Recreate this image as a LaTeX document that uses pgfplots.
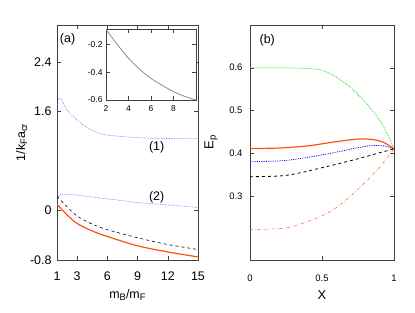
\documentclass[border=0pt]{standalone}
\usepackage{pgfplots}
\pgfplotsset{compat=1.18}
\usepackage{fontspec}
\setmainfont{Liberation Sans}
\definecolor{myorange}{RGB}{255,80,20}
\definecolor{myblue}{RGB}{90,90,255}
\definecolor{mygreen}{RGB}{40,220,40}
\definecolor{mytomato}{RGB}{255,110,60}
\newcommand{\sub}[1]{\raisebox{-0.3ex}{\fontsize{9.5}{10}\selectfont #1}}
\begin{document}
\begin{tikzpicture}[x=1bp,y=1bp]
\useasboundingbox (0,0) rectangle (415,313);
\pgfplotsset{
  every axis/.append style={
    scale only axis,
    /pgf/number format/assume math mode=true,
    axis line style={black!75},
    tick style={black!75},
    tick align=inside,
    clip=true,
  },
}
% left panel
\begin{axis}[
  at={(57bp,53bp)}, anchor=south west,
  width=141bp, height=235bp,
  xmin=1, xmax=15, ymin=-0.8, ymax=3.0,
  xtick={1,3,6,9,12,15},
  ytick={-0.8,0,1.6,2.4},
  yticklabels={-0.8,0,1.6,2.4},
  tick label style={font=\fontsize{12.5}{13}\selectfont},
  xticklabel style={yshift=-8bp},
  yticklabel style={xshift=-2bp},
  xlabel={m\sub{B}/m\sub{F}},
  ylabel={1/k\sub{F}a\sub{cr}},
  label style={font=\fontsize{12.5}{13}\selectfont},
  xlabel style={yshift=-2bp},
  ylabel style={yshift=-4bp},
]
\addplot[myblue, densely dotted, semithick, smooth] coordinates {
(1,1.40) (1.05,1.72) (1.3,1.82) (2,1.63) (3,1.46) (4,1.34) (5,1.26) (6,1.22) (8,1.19) (10,1.17) (12,1.165) (15,1.16)};
\addplot[myblue, densely dotted, semithick, smooth] coordinates {
(1,0.20) (1.3,0.25) (2,0.265) (3,0.25) (5,0.21) (7,0.17) (9,0.13) (12,0.09) (15,0.05)};
\addplot[black, dashed, semithick, smooth] coordinates {
(1,0.23) (2,0.06) (3,-0.09) (4.5,-0.22) (6,-0.31) (9,-0.44) (12,-0.55) (15,-0.63)};
\addplot[myorange, very thick, smooth] coordinates {
(1,0.10) (2,-0.07) (3,-0.21) (4.5,-0.33) (6,-0.42) (9,-0.57) (12,-0.67) (15,-0.75)};
\node[font=\fontsize{12.5}{13}\selectfont] at (axis cs:10.9,1.02) {(1)};
\node[font=\fontsize{12.5}{13}\selectfont] at (axis cs:10.9,0.21) {(2)};
\node[font=\fontsize{12.5}{13}\selectfont] at (axis cs:2.05,2.77) {(a)};
\end{axis}
% inset
\begin{axis}[
  at={(106bp,213bp)}, anchor=south west,
  width=90bp, height=71bp,
  xmin=2, xmax=10, ymin=-0.6, ymax=-0.09,
  xtick={2,4,6,8}, ytick={-0.6,-0.4,-0.2},
  tick label style={font=\fontsize{8.5}{9}\selectfont},
  xticklabel style={yshift=-2bp},
  axis background/.style={fill=white},
]
\addplot[black!45, thick, smooth] coordinates {
(2,-0.093) (3,-0.20) (4,-0.30) (5,-0.38) (6,-0.445) (7,-0.495) (8,-0.54) (9,-0.574) (10,-0.60)};
\end{axis}
% right panel
\begin{axis}[
  at={(250bp,53bp)}, anchor=south west,
  width=144bp, height=235bp,
  xmin=0, xmax=1, ymin=0.15, ymax=0.7,
  xtick={0,0.5,1}, xticklabels={0,0.5,1},
  ytick={0.3,0.4,0.5,0.6},
  yticklabels={0.3,0.4,0.5,0.6},
  tick label style={font=\fontsize{9.5}{10}\selectfont},
  xticklabel style={yshift=-11bp},
  yticklabel style={xshift=-4bp},
  xlabel={X},
  ylabel={E\sub{p}},
  label style={font=\fontsize{13}{14}\selectfont},
  xlabel style={yshift=-3bp},
  ylabel style={yshift=5bp},
]
\addplot[mygreen, densely dotted, thick, smooth] coordinates {
(0,0.600) (0.2,0.600) (0.4,0.598) (0.5,0.594) (0.6,0.578) (0.7,0.553) (0.8,0.52) (0.9,0.477) (0.95,0.447) (1,0.41)};
\addplot[myorange, very thick, smooth] coordinates {
(0,0.411) (0.2,0.412) (0.4,0.417) (0.6,0.427) (0.75,0.433) (0.85,0.432) (0.93,0.425) (1,0.41)};
\addplot[blue, densely dotted, thick, smooth] coordinates {
(0,0.380) (0.25,0.383) (0.5,0.396) (0.65,0.406) (0.75,0.413) (0.85,0.418) (0.93,0.417) (1,0.41)};
\addplot[black, dashed, thick, smooth] coordinates {
(0,0.345) (0.25,0.348) (0.5,0.366) (0.75,0.387) (0.9,0.401) (1,0.41)};
\addplot[mytomato, dash dot, semithick, smooth] coordinates {
(0,0.221) (0.25,0.225) (0.4,0.240) (0.5,0.253) (0.6,0.273) (0.7,0.300) (0.8,0.332) (0.9,0.367) (1,0.41)};
\node[font=\fontsize{12.5}{13}\selectfont] at (axis cs:0.12,0.665) {(b)};
\end{axis}
\end{tikzpicture}
\end{document}
